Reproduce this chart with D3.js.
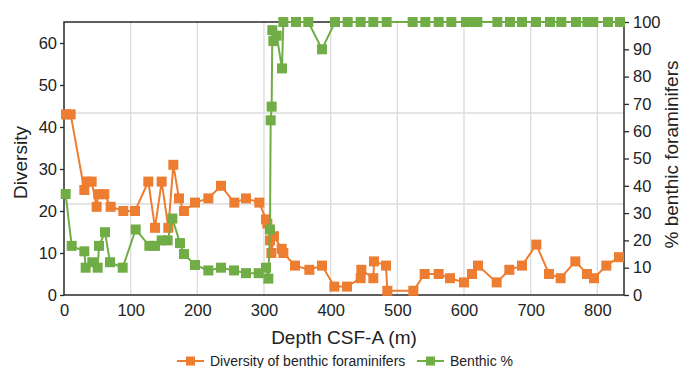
<!DOCTYPE html>
<html>
<head>
<meta charset="utf-8">
<script src="https://cdn.jsdelivr.net/npm/d3@7"></script>
<style>
  body { margin: 0; background: #fff; }
  svg { display: block; }
  text { font-family: "Liberation Sans", Arial, Helvetica, sans-serif; fill: #222; }
</style>
</head>
<body>
<svg id="chart" width="680" height="368"></svg>
<script>
// Diversity of benthic foraminifers (number of taxa) by depth (m CSF-A)
const diversityDepth = [3, 10, 30.5, 34, 41.5, 49, 51.5, 60.5, 70, 89, 106.5, 126.5, 136.5, 146.5, 156.5, 164, 172.5, 180,
  196.5, 216.5, 235.5, 255.5, 273, 293, 303, 305, 309, 311, 315, 326.5, 329, 346.5, 368, 387, 405.5, 424.5, 445, 446,
  464, 465, 483, 485, 524, 541, 562, 579, 600, 612, 621, 649, 668, 687, 708.5, 727.5, 745, 767, 784.5, 795, 813.5, 832.5];
const diversity = [43, 43, 25, 27, 27, 21, 24, 24, 21, 20, 20, 27, 16, 27, 16, 31, 23, 20,
  22, 23, 26, 22, 23, 22, 18, 17, 13, 10, 14, 11, 10, 7, 6, 7, 2, 2, 4, 6,
  4, 8, 7, 1, 1, 5, 5, 4, 3, 5, 7, 3, 6, 7, 12, 5, 4, 8, 5, 4, 7, 9];

// Benthic foraminifers as % of total foraminifers
const benthicDepth = [2.5, 11.5, 30.5, 32.5, 42.5, 50.5, 52.5, 61.5, 69, 88, 107.5, 128, 136.5, 146.5, 155.5, 162.5, 174, 180,
  196.5, 216.5, 235.5, 255, 273, 292, 303, 306.5, 309, 310, 311.5, 312.5, 314, 319, 327, 329, 348, 366.5, 387, 406.5,
  425.5, 445, 464, 484, 523, 542, 562, 581, 603, 612, 620, 650, 669, 687, 708, 729, 746, 768, 785, 794, 816, 834];
const benthicPercent = [37, 18, 16, 10, 12, 10, 18, 23, 12, 10, 24, 18, 18, 20, 20, 28, 19, 15,
  11, 9, 10, 9, 8, 8, 10, 6, 24, 64, 69, 97, 93, 95, 83, 100, 100, 100, 90, 100,
  100, 100, 100, 100, 100, 100, 100, 100, 100, 100, 100, 100, 100, 100, 100, 100, 100, 100, 100, 100, 100, 100];

const depthTicks = [0, 100, 200, 300, 400, 500, 600, 700, 800];
const diversityTicks = [0, 10, 20, 30, 40, 50, 60];
const percentTicks = [0, 10, 20, 30, 40, 50, 60, 70, 80, 90, 100];
const percentGrid = [100 / 3, 200 / 3];

const seriesNames = ["Diversity of benthic foraminifers", "Benthic %"];
const seriesColors = ["#ED7D31", "#70AD47"];

const W = 680, H = 368;
const m = { left: 64, right: 56, top: 22, bottom: 73 };
const iw = W - m.left - m.right, ih = H - m.top - m.bottom;

const svg = d3.select("#chart");
const g = svg.append("g").attr("transform", `translate(${m.left},${m.top})`);

const x = d3.scaleLinear().domain([0, 840]).range([0, iw]);
const yL = d3.scaleLinear().domain([0, 65]).range([ih, 0]);
const yR = d3.scaleLinear().domain([0, 100]).range([ih, 0]);

// grid
g.append("g").selectAll("line").data(depthTicks.filter(d => d > 0)).join("line")
  .attr("x1", d => x(d)).attr("x2", d => x(d)).attr("y1", 0).attr("y2", ih)
  .attr("stroke", "#dcdcdc").attr("stroke-width", 1.3);
g.append("g").selectAll("line").data(percentGrid).join("line")
  .attr("x1", 0).attr("x2", iw).attr("y1", d => yR(d)).attr("y2", d => yR(d))
  .attr("stroke", "#dcdcdc").attr("stroke-width", 1.3);

// axes
const axisColor = "#2a2a2a";
const gx = g.append("g").attr("transform", `translate(0,${ih})`)
  .call(d3.axisBottom(x).tickValues(depthTicks).tickSize(0).tickPadding(9));
const gl = g.append("g").call(d3.axisLeft(yL).tickValues(diversityTicks).tickSize(4).tickPadding(3));
const gr = g.append("g").attr("transform", `translate(${iw},0)`)
  .call(d3.axisRight(yR).tickValues(percentTicks).tickSize(5).tickPadding(4));
[gx, gl, gr].forEach(a => {
  a.select(".domain").remove();
  a.selectAll("line").attr("stroke", axisColor).attr("stroke-width", 1.3);
  a.selectAll("text").attr("font-size", 16.5).attr("fill", "#222")
    .style("font-family", '"Liberation Sans", Arial, sans-serif');
});
g.append("rect").attr("x", 0).attr("y", 0).attr("width", iw).attr("height", ih)
  .attr("fill", "none").attr("stroke", axisColor).attr("stroke-width", 1.5);

// series
const series = [
  { depth: diversityDepth, value: diversity, y: yL, color: seriesColors[0] },
  { depth: benthicDepth, value: benthicPercent, y: yR, color: seriesColors[1] }
];
const sq = 10;
series.forEach(s => {
  const pts = s.depth.map((d, i) => ({ depth: d, v: s.value[i] }));
  const line = d3.line().x(d => x(d.depth)).y(d => s.y(d.v));
  g.append("path").datum(pts).attr("d", line)
    .attr("fill", "none").attr("stroke", s.color).attr("stroke-width", 2);
  g.append("g").selectAll("rect").data(pts).join("rect")
    .attr("x", d => x(d.depth) - sq / 2).attr("y", d => s.y(d.v) - sq / 2)
    .attr("width", sq).attr("height", sq).attr("fill", s.color);
});

// titles
svg.append("text").attr("x", m.left + iw / 2).attr("y", 337).attr("text-anchor", "middle")
  .attr("dominant-baseline", "central").attr("font-size", 19).text("Depth CSF-A (m)");
svg.append("text").attr("transform", `translate(20,${m.top + ih / 2 + 4}) rotate(-90)`)
  .attr("text-anchor", "middle").attr("dominant-baseline", "central").attr("font-size", 19).text("Diversity");
svg.append("text").attr("transform", `translate(671,${m.top + ih / 2 - 4}) rotate(-90)`)
  .attr("text-anchor", "middle").attr("dominant-baseline", "central").attr("font-size", 19).text("% benthic foraminifers");

// legend
const legend = svg.append("g").attr("transform", "translate(0,361)");
const legendX = [177, 417];
seriesNames.forEach((name, i) => {
  const lg = legend.append("g").attr("transform", `translate(${legendX[i]},0)`);
  lg.append("line").attr("x1", 0).attr("x2", 27).attr("y1", 0).attr("y2", 0)
    .attr("stroke", seriesColors[i]).attr("stroke-width", 2);
  lg.append("rect").attr("x", 13.5 - 4.5).attr("y", -4.5).attr("width", 9).attr("height", 9).attr("fill", seriesColors[i]);
  lg.append("text").attr("x", 33).attr("y", 0).attr("dominant-baseline", "central")
    .attr("font-size", 14).text(name);
});
</script>
</body>
</html>
